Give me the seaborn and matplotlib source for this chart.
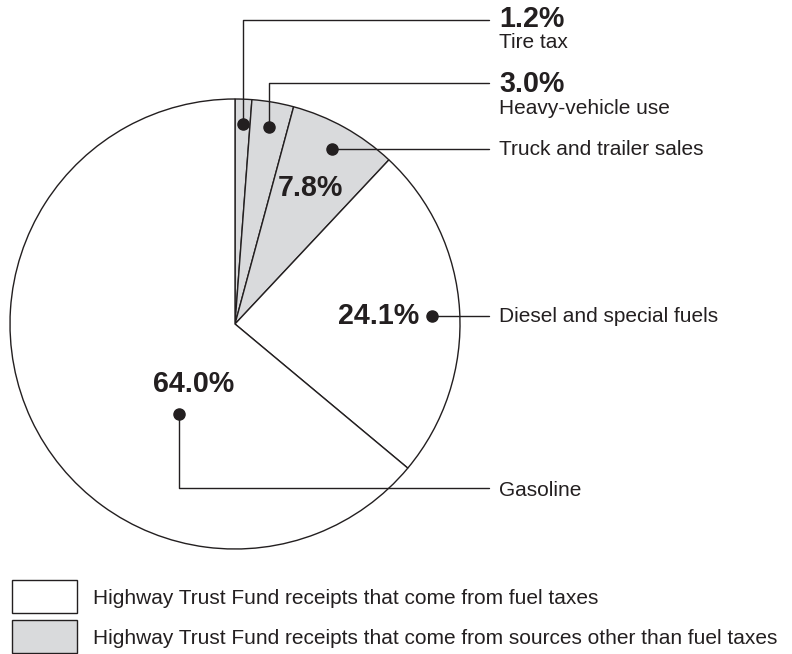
import numpy as np
import matplotlib
matplotlib.use("Agg")
import matplotlib.pyplot as plt
from matplotlib.patches import Rectangle
import seaborn as sns

# data
labels = ["Tire tax", "Heavy-vehicle use", "Truck and trailer sales",
          "Diesel and special fuels", "Gasoline"]
shares = [1.2, 3.0, 7.8, 24.1, 64.0]
is_fuel = [False, False, False, True, True]
legend_text = ["Highway Trust Fund receipts that come from fuel taxes",
               "Highway Trust Fund receipts that come from sources other than fuel taxes"]

sns.set_theme(style="white")
plt.rcParams["font.family"] = ["Liberation Sans", "DejaVu Sans"]

INK = "#231f20"
GRAY = "#d9dadc"
W, H = 792, 654

fig = plt.figure(figsize=(W / 100, H / 100), dpi=100)
ax = fig.add_axes([0, 0, 1, 1])

cx, cy, R = 235, H - 324, 225
colors = ["white" if f else GRAY for f in is_fuel]
wedges, _ = ax.pie(shares, colors=colors, startangle=90, counterclock=False,
                   center=(cx, cy), radius=R,
                   wedgeprops=dict(edgecolor=INK, linewidth=1.0))
ax.set_xlim(0, W)
ax.set_ylim(0, H)
ax.set_aspect("equal")
ax.axis("off")


def dot_at(w, frac, ang=None):
    if ang is None:
        ang = (w.theta1 + w.theta2) / 2
    a = np.deg2rad(ang)
    return cx + frac * R * np.cos(a), cy + frac * R * np.sin(a)


# annotation layout (pixel coords, y from top)
xr = 489          # right end of leader lines
xt = 499          # label column
bold = dict(fontsize=20.6, fontweight="bold", color=INK)
reg = dict(fontsize=15, color=INK)

dots = [dot_at(wedges[0], 0.89), dot_at(wedges[1], 0.89), dot_at(wedges[2], 0.89),
        dot_at(wedges[3], 0.875, 2.3), dot_at(wedges[4], 0.47, -121.7)]
for x, y in dots:
    ax.plot(x, y, "o", color=INK, markersize=8, zorder=5)

# tire tax
x, y = dots[0]
ax.plot([x, x, xr], [y, H - 20, H - 20], color=INK, lw=1.0)
ax.text(xt, H - 19, f"{shares[0]:.1f}%", va="center", **bold)
ax.text(xt, H - 43, labels[0], va="center", **reg)
# heavy vehicle
x, y = dots[1]
ax.plot([x, x, xr], [y, H - 83, H - 83], color=INK, lw=1.0)
ax.text(xt, H - 84, f"{shares[1]:.1f}%", va="center", **bold)
ax.text(xt, H - 108, labels[1], va="center", **reg)
# truck
x, y = dots[2]
ax.plot([x, xr], [y, y], color=INK, lw=1.0)
ax.text(xt, y, labels[2], va="center", **reg)
ax.text(310, H - 188, f"{shares[2]:.1f}%", ha="center", va="center", **bold)
# diesel
x, y = dots[3]
ax.plot([x, xr], [y, y], color=INK, lw=1.0)
ax.text(xt, y, labels[3], va="center", **reg)
ax.text(x - 12, y, f"{shares[3]:.1f}%", ha="right", va="center", **bold)
# gasoline
x, y = dots[4]
ax.plot([x, x, xr], [y, H - 488, H - 488], color=INK, lw=1.0)
ax.text(xt, H - 490, labels[4], va="center", **reg)
ax.text(x + 14, H - 384, f"{shares[4]:.1f}%", ha="center", va="center", **bold)

# legend
for i, (txt, fc) in enumerate(zip(legend_text, ["white", GRAY])):
    top = 580 + i * 40
    ax.add_patch(Rectangle((12, H - top - 33), 65, 33, facecolor=fc,
                           edgecolor=INK, lw=1.0))
    ax.text(93, H - top - 18, txt, va="center", **reg)

fig.savefig("out.png", dpi=100, facecolor="white")
